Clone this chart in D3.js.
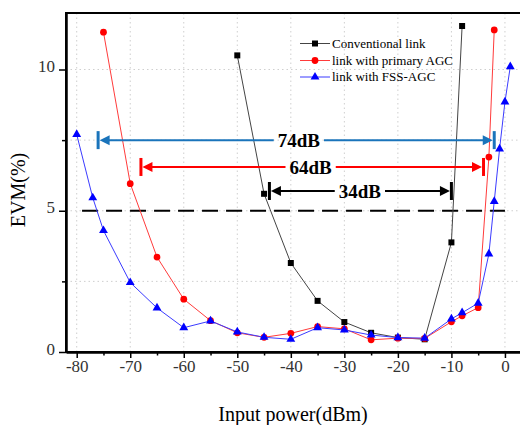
<!DOCTYPE html>
<html>
<head>
<meta charset="utf-8">
<script src="https://cdn.jsdelivr.net/npm/d3@7"></script>
<style>
  body { margin: 0; background: #fff; }
  svg { display: block; font-family: "Liberation Serif", "Times New Roman", serif; }
</style>
</head>
<body>
<div id="chart"></div>
<script>
// series
const conventionalX = [-50, -45, -40, -35, -30, -25, -20, -15, -10, -8];
const conventionalEVM = [10.5, 5.6, 3.15, 1.81, 1.06, 0.68, 0.51, 0.45, 3.88, 11.54];

const primaryX = [-75, -70, -65, -60, -55, -50, -45, -40, -35, -30, -25, -20, -15, -10, -8, -5, -3, -2];
const primaryEVM = [11.32, 5.96, 3.36, 1.87, 1.11, 0.68, 0.52, 0.66, 0.9, 0.82, 0.43, 0.49, 0.48, 1.07, 1.28, 1.57, 6.9, 11.4];

const fssX = [-80, -77, -75, -70, -65, -60, -55, -50, -45, -40, -35, -30, -25, -20, -15, -10, -8, -5, -3, -2, -1, 0, 1];
const fssEVM = [7.7, 5.46, 4.3, 2.46, 1.56, 0.86, 1.1, 0.71, 0.52, 0.45, 0.86, 0.78, 0.6, 0.51, 0.49, 1.17, 1.39, 1.73, 3.47, 5.33, 7.19, 8.85, 10.1];

const seriesNames = ["Conventional link", "link with primary AGC", "link with FSS-AGC"];

// dynamic range annotations
const rangeLabels = ["74dB", "64dB", "34dB"];
const rangeFrom = [-76, -68, -44];
const rangeTo = [-2, -4, -10];
const rangeLevel = [7.5, 6.55, 5.7];
const rangeLabelAt = [-38.5, -36.3, -27.1];

const threshold = 5;
const thresholdFrom = -79;
const thresholdTo = 0;

const xMajor = [-80, -70, -60, -50, -40, -30, -20, -10, 0];
const xMinor = [-75, -65, -55, -45, -35, -25, -15, -5];
const yMajor = [0, 5, 10];
const yMinor = [2.5, 7.5];
const yGrid = [2.5, 5, 7.5, 10];

const width = 520, height = 425;
const margin = {left: 66, top: 13, right: -1, bottom: 73};

const x = d3.scaleLinear().domain([-82, 3]).range([margin.left, width - margin.right]);
const y = d3.scaleLinear().domain([0, 12]).range([height - margin.bottom, margin.top]);

const svg = d3.select("#chart").append("svg")
  .attr("width", width)
  .attr("height", height);

// grid
svg.append("g")
  .selectAll("line")
  .data(xMajor)
  .join("line")
  .attr("x1", d => x(d)).attr("x2", d => x(d))
  .attr("y1", y(12)).attr("y2", y(0))
  .attr("stroke", "#cfcfcf")
  .attr("stroke-dasharray", "1.5,3");

svg.append("g")
  .selectAll("line")
  .data(yGrid)
  .join("line")
  .attr("x1", x(-82)).attr("x2", x(3))
  .attr("y1", d => y(d)).attr("y2", d => y(d))
  .attr("stroke", "#cfcfcf")
  .attr("stroke-dasharray", "1.5,3");

// frame
svg.append("rect")
  .attr("x", x(-82)).attr("y", y(12))
  .attr("width", x(3) - x(-82)).attr("height", y(0) - y(12))
  .attr("fill", "none")
  .attr("stroke", "#000")
  .attr("stroke-width", 2);

// axes (plain hyphen for negatives, like the original)
const fmt = d => String(d);
const xAxis = svg.append("g")
  .attr("transform", `translate(0,${y(0)})`)
  .call(d3.axisBottom(x).tickValues(xMajor).tickFormat(fmt).tickSize(6).tickSizeOuter(0).tickPadding(2));
svg.append("g")
  .attr("transform", `translate(0,${y(0)})`)
  .call(d3.axisBottom(x).tickValues(xMinor).tickSize(3.5).tickSizeOuter(0).tickFormat(""));

const yAxis = svg.append("g")
  .attr("transform", `translate(${x(-82)},0)`)
  .call(d3.axisLeft(y).tickValues(yMajor).tickFormat(fmt).tickSize(7).tickSizeOuter(0).tickPadding(4));
svg.append("g")
  .attr("transform", `translate(${x(-82)},0)`)
  .call(d3.axisLeft(y).tickValues(yMinor).tickSize(4).tickSizeOuter(0).tickFormat(""));

svg.selectAll(".domain").attr("stroke-width", 2);
svg.selectAll(".tick line").attr("stroke-width", 1.5);
svg.selectAll(".tick text")
  .style("font-family", "Liberation Serif, serif")
  .style("font-size", "17px")
  .attr("fill", "#333");
yAxis.selectAll(".tick text").attr("dy", "0.12em");

// axis titles
svg.append("text")
  .attr("x", 293)
  .attr("y", 421)
  .attr("text-anchor", "middle")
  .style("font-size", "20px")
  .text("Input power(dBm)");

svg.append("text")
  .attr("transform", "translate(25,190) rotate(-90)")
  .attr("text-anchor", "middle")
  .style("font-size", "20px")
  .text("EVM(%)");

// threshold
svg.append("line")
  .attr("x1", x(thresholdFrom)).attr("x2", x(thresholdTo))
  .attr("y1", y(threshold)).attr("y2", y(threshold))
  .attr("stroke", "#000")
  .attr("stroke-width", 2)
  .attr("stroke-dasharray", "16,8");

// series
const series = [
  {name: seriesNames[0], xs: conventionalX, ys: conventionalEVM, line: "#444", fill: "#000", symbol: d3.symbolSquare, size: 36},
  {name: seriesNames[1], xs: primaryX, ys: primaryEVM, line: "#ff3b3b", fill: "#ff0000", symbol: d3.symbolCircle, size: 36},
  {name: seriesNames[2], xs: fssX, ys: fssEVM, line: "#3b3bff", fill: "#0000ff", symbol: d3.symbolTriangle, size: 34}
];

const line = d3.line().x(d => x(d[0])).y(d => y(d[1]));

series.forEach(s => {
  const pts = s.xs.map((v, i) => [v, s.ys[i]]);
  svg.append("path")
    .datum(pts)
    .attr("d", line)
    .attr("fill", "none")
    .attr("stroke", s.line)
    .attr("stroke-width", 1);
  svg.append("g")
    .selectAll("path")
    .data(pts)
    .join("path")
    .attr("transform", d => `translate(${x(d[0])},${y(d[1])})`)
    .attr("d", d3.symbol().type(s.symbol).size(s.size))
    .attr("fill", s.fill);
});

// range arrows
const arrowColors = ["#1a74bb", "#ff0000", "#000"];
rangeLabels.forEach((lab, i) => {
  const c = arrowColors[i];
  const yy = y(rangeLevel[i]);
  const x0 = x(rangeFrom[i]), x1 = x(rangeTo[i]);
  const g = svg.append("g");

  const t = g.append("text")
    .attr("x", x(rangeLabelAt[i]))
    .attr("y", yy)
    .attr("dy", "0.35em")
    .attr("text-anchor", "middle")
    .style("font-size", "19px")
    .style("font-weight", "bold")
    .attr("fill", "#000")
    .text(lab);
  const w = t.node().getComputedTextLength();
  const tl = x(rangeLabelAt[i]) - w / 2 - 4;
  const tr = x(rangeLabelAt[i]) + w / 2 + 4;

  g.append("line").attr("x1", x0 + 5).attr("x2", tl).attr("y1", yy).attr("y2", yy)
    .attr("stroke", c).attr("stroke-width", 2);
  g.append("line").attr("x1", tr).attr("x2", x1 - 5).attr("y1", yy).attr("y2", yy)
    .attr("stroke", c).attr("stroke-width", 2);

  [x0, x1].forEach(bx => {
    g.append("line").attr("x1", bx).attr("x2", bx).attr("y1", yy - 9).attr("y2", yy + 9)
      .attr("stroke", c).attr("stroke-width", 3);
  });

  const a0 = x0 + 1.5, a1 = x1 - 1.5;
  g.append("path")
    .attr("d", `M${a0},${yy}L${a0 + 10},${yy - 5}L${a0 + 10},${yy + 5}Z`)
    .attr("fill", c);
  g.append("path")
    .attr("d", `M${a1},${yy}L${a1 - 10},${yy - 5}L${a1 - 10},${yy + 5}Z`)
    .attr("fill", c);
});

// legend
const legend = svg.append("g");
const legendY = [43.5, 60.5, 77];
series.forEach((s, i) => {
  const ly = legendY[i];
  legend.append("line")
    .attr("x1", 300).attr("x2", 330).attr("y1", ly).attr("y2", ly)
    .attr("stroke", s.line).attr("stroke-width", 1);
  legend.append("path")
    .attr("transform", `translate(315,${ly})`)
    .attr("d", d3.symbol().type(s.symbol).size(s.size))
    .attr("fill", s.fill);
  legend.append("text")
    .attr("x", 332)
    .attr("y", ly)
    .attr("dy", "0.33em")
    .style("font-size", "13px")
    .text(s.name);
});
</script>
</body>
</html>
